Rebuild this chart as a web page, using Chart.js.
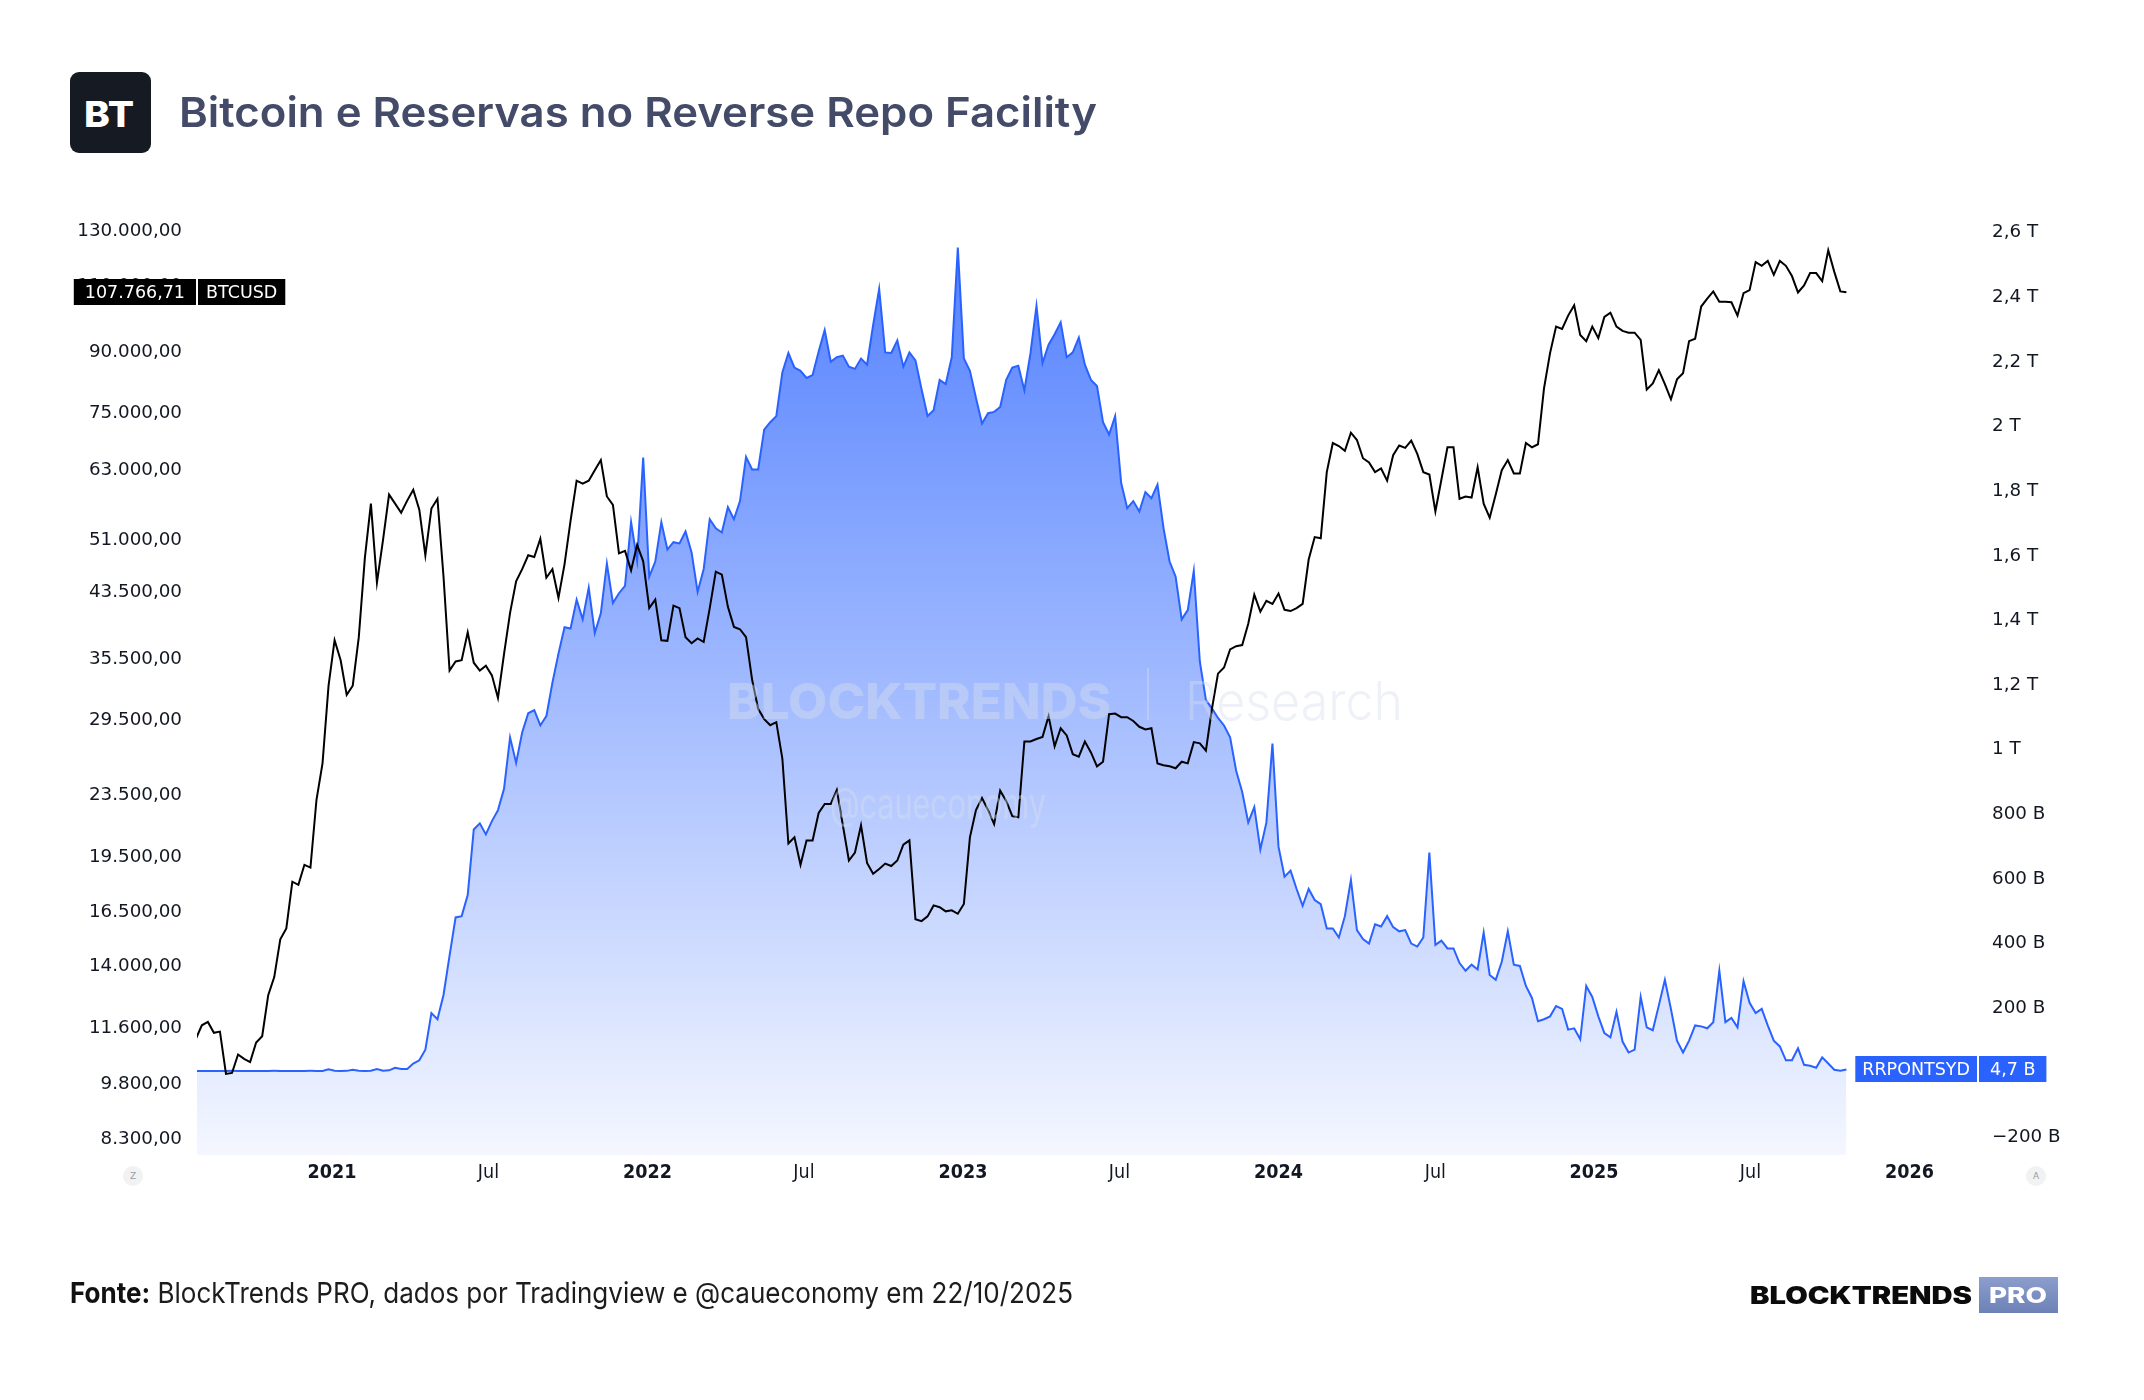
<!DOCTYPE html>
<html lang="pt-BR">
<head>
<meta charset="utf-8">
<title>Bitcoin e Reservas no Reverse Repo Facility</title>
<script src="https://cdn.jsdelivr.net/npm/chart.js@4.4.1/dist/chart.umd.min.js"></script>
<style>
  html, body { margin: 0; padding: 0; background: #fff; }
  body { width: 2144px; height: 1400px; position: relative; overflow: hidden; font-family: Inter, "Noto Sans", sans-serif; }
  #chart { position: absolute; left: 0; top: 0; }
  .fit { position: absolute; white-space: nowrap; transform-origin: left center; line-height: 1; }
  #logo { position: absolute; left: 70px; top: 72px; width: 81px; height: 81px; background: #161a22; border-radius: 9px; }
  #bt { color: #fff; font-weight: 800; font-size: 36px; left: 84px; top: 96px; }
  #title { left: 179px; top: 92px; font-size: 41px; font-weight: 600; color: #444b68; }
  #footer { left: 70px; top: 1278px; font-size: 29px; color: #1c1c1c; }
  #footer b { font-weight: 700; color: #111; }
  #brand { left: 1750px; top: 1284px; font-size: 24px; font-weight: 900; color: #0b0b0b; }
  #pro { position: absolute; left: 1979px; top: 1277px; width: 79px; height: 36px; background: linear-gradient(#8c9ecd, #6c81b6); }
  #protxt { left: 1989px; top: 1285px; font-size: 21px; font-weight: 800; color: #fff; }
  .btn { position: absolute; width: 20px; height: 20px; border-radius: 10px; background: #f1f2f4; color: #9a9ca3; font: 9px "DejaVu Sans", sans-serif; display: flex; align-items: center; justify-content: center; }
</style>
</head>
<body>
<canvas id="chart" width="2144" height="1400"></canvas>
<div id="logo"></div>
<div id="bt" class="fit">BT</div>
<div id="title" class="fit">Bitcoin e Reservas no Reverse Repo Facility</div>
<div id="footer" class="fit"><b>Fonte:</b> BlockTrends PRO, dados por Tradingview e @caueconomy em 22/10/2025</div>
<div id="brand" class="fit">BLOCKTRENDS</div>
<div id="pro"></div>
<div id="protxt" class="fit">PRO</div>
<div class="btn" style="left:123px;top:1166px">Z</div>
<div class="btn" style="left:2026px;top:1166px">A</div>
<script>
// semanas (segunda-feira) a partir desta data
const firstWeek = '2020-07-27';

// BTCUSD, fechamento semanal
const btcWeekly = [
  11210, 11680, 11800, 11420, 11460, 10080, 10110, 10690, 10550, 10450,
  11090, 11300, 12800, 13520, 15160, 15670, 18050, 17880, 19000, 18840,
  23140, 25840, 32700, 37530, 35320, 31800, 32700, 37880, 48130, 56780,
  44700, 50840, 58360, 56780, 55230, 57300, 59220, 55750, 48560, 55940,
  57620, 45530, 34240, 35190, 35320, 38440, 35060, 34240, 34750, 33740,
  31510, 35980, 40770, 44870, 46550, 48560, 48300, 51050, 45360, 46550,
  42680, 47240, 53920, 60880, 60330, 60880, 62830, 64800, 58030, 56570,
  48830,
  49200, 46380, 50110, 47670, 41370, 42450, 37530, 37460, 41690, 41370,
  37880, 37190, 37740, 37330, 41370, 46200, 45780, 41530, 39080, 38800,
  37880, 33310, 30490, 29550, 29010, 29280, 26220, 20270, 20650, 19000,
  20460, 20460, 22230, 22850, 22850, 23840, 21420, 19250, 19720, 21420,
  19110, 18490, 18760, 19070, 18930, 19250, 20200, 20460, 16110, 16020,
  16250, 16800, 16710, 16500, 16550, 16380, 16870, 20650, 22430, 23270,
  22430, 21500, 23790, 23060, 22020, 21940, 27610, 27610, 27820, 28000,
  29820, 27210, 28740, 28120, 26570, 26370, 27610, 26710, 25610, 25970,
  29990, 30050, 29720, 29720, 29380, 28870, 28640, 28740, 25840, 25700,
  25610, 25460, 25970, 25840, 27560, 27460, 26850, 30490, 33920, 34550,
  36510, 36860, 36990, 39450, 43080, 40930, 42290, 41900, 43240, 41160,
  41000, 41370, 41900, 47930, 51310, 51130, 62470, 68230, 67610, 66640,
  70400, 68860, 65160, 64320, 62470, 63170, 60880, 65770, 67730, 67230,
  68730, 66010, 62470, 62010, 55440, 61090, 67360, 67360, 57620,
  58030, 57840, 63390, 56780, 54420, 58360, 62830, 64800, 62230, 62230,
  68230, 67360, 67980, 80520, 89600, 97120, 96430, 100400, 103600, 94660,
  92930, 97120, 93770, 100000, 101300, 97120, 95870, 95350, 95350, 93280,
  80230, 81720, 85100, 81570, 77900, 82760, 84300, 92930, 93600, 103200,
  105700, 108050, 104740, 104740, 104540, 100400, 107460, 108450, 118100, 116760,
  118500, 113610, 118500, 116760, 113190, 107680, 110050, 114200, 114200, 111500,
  122400, 114630, 108050, 107766.71
];

// RRPONTSYD em bilhoes de USD
const rrpWeekly = [
  0.2, 0.1, 0.3, 0.2, 0.1, 0.2, 0.4, 0.3, 0.1, 0.2,
  0.3, 0.2, 0.1, 0.4, 0.3, 0.2, 0.1, 0.3, 0.2, 0.4,
  0.3, 0.2, 5, 0.5, 0.3, 0.4, 4, 0.5, 0.3, 0.8,
  6, 1, 2, 10, 6, 6, 23, 33, 66, 179,
  160, 235, 357, 475, 479, 544, 747, 766, 732, 773,
  807, 873, 1032, 953, 1047, 1107, 1116, 1069, 1098, 1201,
  1291, 1373, 1369, 1458, 1397, 1495, 1355, 1416, 1570, 1448,
  1478,
  1501, 1698, 1579, 1898, 1529, 1576, 1698, 1613, 1636, 1632,
  1669, 1604, 1482, 1553, 1707, 1679, 1666, 1744, 1707, 1763,
  1900, 1861, 1861, 1984, 2007, 2026, 2161, 2221, 2176, 2166,
  2144, 2153, 2226, 2292, 2194, 2208, 2213, 2179, 2172, 2204,
  2185, 2307, 2419, 2223, 2221, 2260, 2179, 2223, 2198, 2110,
  2026, 2044, 2138, 2125, 2208, 2547, 2204, 2166, 2082, 2003,
  2035, 2039, 2054, 2138, 2176, 2182, 2106, 2219, 2367, 2190,
  2247, 2279, 2316, 2208, 2223, 2269, 2185, 2138, 2119, 2007,
  1969, 2026, 1819, 1741, 1763, 1731, 1791, 1772, 1814, 1679,
  1576, 1529, 1397, 1426, 1547, 1266, 1148, 1122, 1092, 1069,
  1032, 929, 863, 769, 816, 685, 769, 1013, 694, 601,
  620, 563, 511, 563, 529, 516, 441, 441, 413, 479,
  591, 436, 408, 394, 454, 447, 479, 445, 432, 436,
  394, 385, 413, 676, 390, 403, 379, 379, 334,
  310, 329, 314, 428, 297, 282, 338, 432, 329, 325,
  263, 226, 154, 160, 169, 201, 192, 128, 132, 98,
  263, 229, 169, 117, 104, 183, 91, 57, 66, 229,
  135, 126, 203, 282, 192, 94, 57, 94, 141, 138,
  132, 151, 310, 151, 164, 135, 278, 211, 179, 192,
  141, 94, 76, 33, 33, 70, 19, 16, 10, 42,
  23, 4, 1, 4.7
];

const leftTicks = [8300, 9800, 11600, 14000, 16500, 19500, 23500, 29500, 35500, 43500, 51000, 63000, 75000, 90000, 110000, 130000];
const rightTicks = [-200, 0, 200, 400, 600, 800, 1000, 1200, 1400, 1600, 1800, 2000, 2200, 2400, 2600];
const xTickDates = ['2021-01-01', '2021-07-01', '2022-01-01', '2022-07-01', '2023-01-01', '2023-07-01', '2024-01-01', '2024-07-01', '2025-01-01', '2025-07-01', '2026-01-01'];
const xTickLabels = ['2021', 'Jul', '2022', 'Jul', '2023', 'Jul', '2024', 'Jul', '2025', 'Jul', '2026'];

function decYear(d) {
    var y = d.getUTCFullYear();
    var a = Date.UTC(y, 0, 1), b = Date.UTC(y + 1, 0, 1);
    return y + (d.getTime() - a) / (b - a);
}

function weekX(i) {
    var d = new Date(firstWeek + 'T00:00:00Z');
    d.setUTCDate(d.getUTCDate() + 7 * i);
    return decYear(d);
}

// 130.000,00
function fmtBR(v) {
    var parts = v.toFixed(2).split('.');
    return parts[0].replace(/\B(?=(\d{3})+(?!\d))/g, '.') + ',' + parts[1];
}

// bilhoes -> "2,6 T" / "800 B"
function fmtRRP(v) {
    if (v === 0) return '';
    var sign = v < 0 ? '\u2212' : '';
    var a = Math.abs(v);
    if (a >= 1000) return sign + String(+(a / 1000).toFixed(1)).replace('.', ',') + ' T';
    return sign + String(+a.toFixed(1)).replace('.', ',') + ' B';
}

const btcPoints = btcWeekly.map(function (v, i) { return { x: weekX(i), y: v }; });
const rrpPoints = rrpWeekly.map(function (v, i) { return { x: weekX(i), y: v }; });
const xTickValues = xTickDates.map(function (s) { return decYear(new Date(s + 'T00:00:00Z')); });

const axisFont = { family: '"DejaVu Sans", sans-serif', size: 18.3 };

function drawFit(ctx, text, font, x, y, width) {
    ctx.font = font;
    var w = ctx.measureText(text).width;
    ctx.save();
    ctx.translate(x, y);
    ctx.scale(width / w, 1);
    ctx.fillText(text, 0, 0);
    ctx.restore();
}

function tag(ctx, text, x, y, w, bg) {
    ctx.fillStyle = bg;
    ctx.fillRect(x, y - 13, w, 26);
    ctx.fillStyle = '#fff';
    ctx.textAlign = 'center';
    ctx.textBaseline = 'middle';
    ctx.fillText(text, x + w / 2, y + 1);
}

const overlay = {
    id: 'overlay',
    afterDatasetsDraw(chart) {
        const ctx = chart.ctx;
        ctx.save();
        ctx.fillStyle = 'rgba(215,222,236,0.42)';
        ctx.textAlign = 'left';
        ctx.textBaseline = 'alphabetic';
        drawFit(ctx, 'BLOCKTRENDS', '800 50px Inter', 727, 719, 384);
        drawFit(ctx, 'Research', '300 53px Inter', 1185, 720, 218);
        drawFit(ctx, '@caueconomy', '400 44px Inter', 830, 819, 216);
        ctx.fillRect(1147, 668, 2, 52);
        ctx.restore();
    },
    afterDraw(chart) {
        const ctx = chart.ctx, area = chart.chartArea;
        ctx.save();
        ctx.font = '17.5px "DejaVu Sans"';

        var last = btcWeekly[btcWeekly.length - 1];
        var y = Math.round(chart.scales.yL.getPixelForValue(last));
        var t1 = fmtBR(last), w1 = ctx.measureText(t1).width + 22;
        tag(ctx, t1, area.left - 1 - w1, y, w1, '#000');
        var w2 = ctx.measureText('BTCUSD').width + 16;
        tag(ctx, 'BTCUSD', area.left + 1, y, w2, '#000');

        var lastR = rrpWeekly[rrpWeekly.length - 1];
        var yr = Math.round(chart.scales.yR.getPixelForValue(lastR));
        var w3 = ctx.measureText('RRPONTSYD').width + 14;
        tag(ctx, 'RRPONTSYD', area.right - 1 - w3, yr, w3, '#2962ff');
        var t4 = fmtRRP(lastR), w4 = ctx.measureText(t4).width + 22;
        tag(ctx, t4, area.right + 1, yr, w4, '#2962ff');
        ctx.restore();
    }
};

function rrpFill(context) {
    const chart = context.chart, area = chart.chartArea;
    if (!area) return 'rgba(41,98,255,0.3)';
    const top = chart.scales.yR.getPixelForValue(Math.max.apply(null, rrpWeekly));
    const g = chart.ctx.createLinearGradient(0, top, 0, area.bottom);
    g.addColorStop(0, 'rgba(41,98,255,0.8)');
    g.addColorStop(1, 'rgba(41,98,255,0.05)');
    return g;
}

new Chart(document.getElementById('chart'), {
    type: 'line',
    data: {
        datasets: [
            { label: 'BTCUSD', data: btcPoints, yAxisID: 'yL', borderColor: '#000', borderWidth: 2, pointRadius: 0, tension: 0, fill: false, order: 0 },
            { label: 'RRPONTSYD', data: rrpPoints, yAxisID: 'yR', borderColor: '#2962ff', borderWidth: 2, pointRadius: 0, tension: 0, fill: 'start', backgroundColor: rrpFill, order: 1 }
        ]
    },
    options: {
        responsive: false,
        animation: false,
        events: [],
        layout: { padding: { top: 205, left: 0, right: 0, bottom: 0 } },
        plugins: { legend: { display: false }, tooltip: { enabled: false } },
        scales: {
            x: {
                type: 'linear', min: 2020.5721, max: 2026.2171,
                afterBuildTicks: function (s) { s.ticks = xTickValues.map(function (v) { return { value: v }; }); },
                afterFit: function (s) { s.height = 245; },
                grid: { display: false, drawTicks: false }, border: { display: false },
                ticks: {
                    autoSkip: false, maxRotation: 0, padding: 6, color: '#131722',
                    font: function (c) {
                        var bold = c.tick && Number.isInteger(Math.round(c.tick.value * 1000) / 1000);
                        return { family: '"DejaVu Sans Condensed", "Liberation Sans Narrow", sans-serif', size: 19.5, weight: bold ? 'bold' : 'normal' };
                    },
                    callback: function (v, i) { return xTickLabels[i]; }
                }
            },
            yL: {
                type: 'logarithmic', position: 'left', min: 7884, max: 140390,
                afterBuildTicks: function (s) { s.ticks = leftTicks.map(function (v) { return { value: v }; }); },
                afterFit: function (s) { s.width = 197; },
                grid: { display: false, drawTicks: false }, border: { display: false },
                ticks: { autoSkip: false, padding: 15, labelOffset: 1, color: '#131722', font: axisFont, callback: function (v) { return fmtBR(v); } }
            },
            yR: {
                type: 'linear', position: 'right', min: -259.9, max: 2679.0,
                afterBuildTicks: function (s) { s.ticks = rightTicks.map(function (v) { return { value: v }; }); },
                afterFit: function (s) { s.width = 166; },
                grid: { display: false, drawTicks: false }, border: { display: false },
                ticks: { autoSkip: false, padding: 14, labelOffset: 2, color: '#131722', font: axisFont, callback: function (v) { return fmtRRP(v); } }
            }
        }
    },
    plugins: [overlay]
});

// ajusta largura dos textos
function fitWidth(id, target) {
    var el = document.getElementById(id);
    el.style.transform = 'none';
    var w = el.getBoundingClientRect().width;
    el.style.transform = 'scaleX(' + (target / w) + ')';
}
fitWidth('title', 918);
fitWidth('footer', 1003);
fitWidth('brand', 222);
fitWidth('protxt', 58);
fitWidth('bt', 50);
</script>
</body>
</html>
